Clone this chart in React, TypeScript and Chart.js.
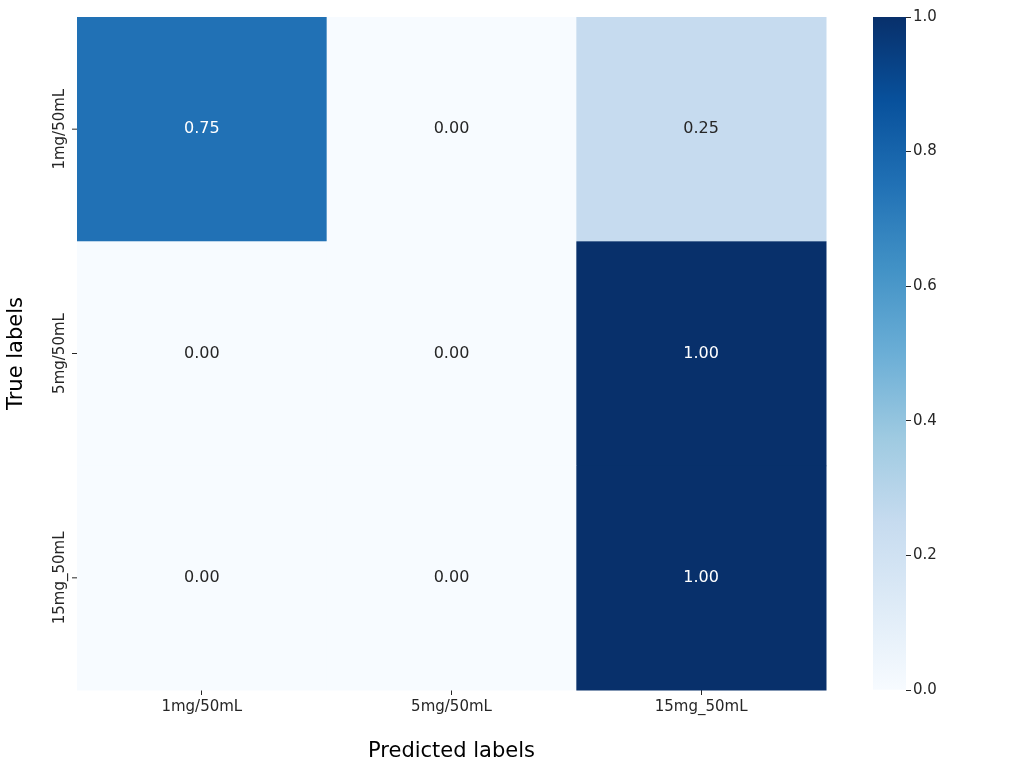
import React, { useEffect, useRef } from "react";
import { Chart, registerables } from "chart.js";
Chart.register(...registerables);

const xLabels = ["1mg/50mL", "5mg/50mL", "15mg_50mL"];
const yLabels = ["1mg/50mL", "5mg/50mL", "15mg_50mL"];
const matrix = [
  [0.75, 0.0, 0.25],
  [0.0, 0.0, 1.0],
  [0.0, 0.0, 1.0],
];
const cbTicks = [0, 0.2, 0.4, 0.6, 0.8, 1.0];
const blues = ["#f7fbff", "#deebf7", "#c6dbef", "#9ecae1", "#6baed6", "#4292c6", "#2171b5", "#08519c", "#08306b"];
const FONT = "'DejaVu Sans', sans-serif";

function hex(h: string) { return [1, 3, 5].map(i => parseInt(h.slice(i, i + 2), 16)); }
function colorFor(v: number) {
  const t = Math.max(0, Math.min(1, v)) * (blues.length - 1);
  const i = Math.min(Math.floor(t), blues.length - 2);
  const f = t - i;
  const a = hex(blues[i]), b = hex(blues[i + 1]);
  const c = a.map((x, k) => Math.round(x + (b[k] - x) * f));
  return `rgb(${c[0]},${c[1]},${c[2]})`;
}

export default function App() {
  const mainRef = useRef<HTMLCanvasElement>(null);
  const cbRef = useRef<HTMLCanvasElement>(null);
  useEffect(() => {
    const pts: any[] = [];
    matrix.forEach((row, r) => row.forEach((v, c) => pts.push({ x: c, y: r, v })));
    const heat = {
      id: "heat",
      beforeDatasetsDraw(chart: any) {
        const { ctx, scales: { x, y } } = chart;
        ctx.save();
        pts.forEach(p => {
          const x0 = x.getPixelForValue(p.x - 0.5), x1 = x.getPixelForValue(p.x + 0.5);
          const y0 = y.getPixelForValue(p.y - 0.5), y1 = y.getPixelForValue(p.y + 0.5);
          ctx.fillStyle = colorFor(p.v);
          ctx.fillRect(x0, y0, x1 - x0 + 0.5, y1 - y0 + 0.5);
          ctx.fillStyle = p.v > 0.5 ? "#ffffff" : "#262626";
          ctx.font = `16px ${FONT}`;
          ctx.textAlign = "center"; ctx.textBaseline = "middle";
          ctx.fillText(p.v.toFixed(2), (x0 + x1) / 2, (y0 + y1) / 2);
        });
        ctx.fillStyle = "#262626";
        ctx.font = `15px ${FONT}`;
        yLabels.forEach((l, i) => {
          const py = y.getPixelForValue(i);
          ctx.save();
          ctx.translate(68, py);
          ctx.rotate(-Math.PI / 2);
          ctx.textAlign = "center"; ctx.textBaseline = "bottom";
          ctx.fillText(l, 0, 0);
          ctx.restore();
          ctx.strokeStyle = "#262626"; ctx.lineWidth = 1;
          ctx.beginPath(); ctx.moveTo(72, py); ctx.lineTo(77, py); ctx.stroke();
        });
        ctx.restore();
      },
    };
    const main = new Chart(mainRef.current!, {
      type: "scatter",
      data: { datasets: [{ data: pts, pointRadius: 0 }] },
      options: {
        animation: false, responsive: false,
        layout: { padding: { top: 17, right: 198, left: 0, bottom: 0 } },
        plugins: { legend: { display: false }, tooltip: { enabled: false } },
        scales: {
          x: {
            type: "linear", min: -0.5, max: 2.5,
            afterBuildTicks: (s: any) => { s.ticks = [0, 1, 2].map(v => ({ value: v })); },
            afterFit: (s: any) => { s.height = 78; },
            border: { display: false },
            grid: { drawOnChartArea: false, tickLength: 5, color: "#262626" },
            ticks: { callback: (v: any) => xLabels[v], color: "#262626", font: { size: 15, family: FONT }, maxRotation: 0, padding: 3 },
            title: { display: true, text: "Predicted labels", color: "#000", font: { size: 21, family: FONT }, padding: { top: 12 } },
          },
          y: {
            type: "linear", min: -0.5, max: 2.5, reverse: true,
            afterBuildTicks: (s: any) => { s.ticks = [0, 1, 2].map(v => ({ value: v })); },
            afterFit: (s: any) => { s.width = 77; },
            border: { display: false },
            grid: { display: false },
            ticks: { callback: () => "" },
            title: { display: true, text: "True labels", color: "#000", font: { size: 21, family: FONT }, padding: { bottom: 0 } },
          },
        },
      } as any,
      plugins: [heat],
    });
    const cb = new Chart(cbRef.current!, {
      type: "bar",
      data: {
        labels: ["cb"],
        datasets: [{
          data: [[0, 1]] as any,
          barPercentage: 1, categoryPercentage: 1,
          backgroundColor: (c: any) => {
            const a = c.chart.chartArea;
            if (!a) return blues[4];
            const g = c.chart.ctx.createLinearGradient(0, a.bottom, 0, a.top);
            blues.forEach((b, i) => g.addColorStop(i / (blues.length - 1), b));
            return g;
          },
        }],
      },
      options: {
        animation: false, responsive: false,
        layout: { padding: { top: 17, bottom: 78, left: 0, right: 0 } },
        plugins: { legend: { display: false }, tooltip: { enabled: false } },
        scales: {
          x: { display: false },
          y: {
            position: "right", min: 0, max: 1,
            afterBuildTicks: (s: any) => { s.ticks = cbTicks.map(v => ({ value: v })); },
            afterFit: (s: any) => { s.width = 118; },
            border: { display: false },
            grid: { drawOnChartArea: false, tickLength: 5, color: "#262626" },
            ticks: { callback: (v: any) => Number(v).toFixed(1), color: "#262626", font: { size: 15, family: FONT }, padding: 2 },
          },
        },
      } as any,
    });
    return () => { main.destroy(); cb.destroy(); };
  }, []);
  return (
    <div style={{ position: "absolute", left: 0, top: 0, width: 1024, height: 768, background: "#fff" }}>
      <canvas ref={mainRef} width={1024} height={768} style={{ position: "absolute", left: 0, top: 0 }} />
      <canvas ref={cbRef} width={151} height={768} style={{ position: "absolute", left: 873, top: 0 }} />
    </div>
  );
}
